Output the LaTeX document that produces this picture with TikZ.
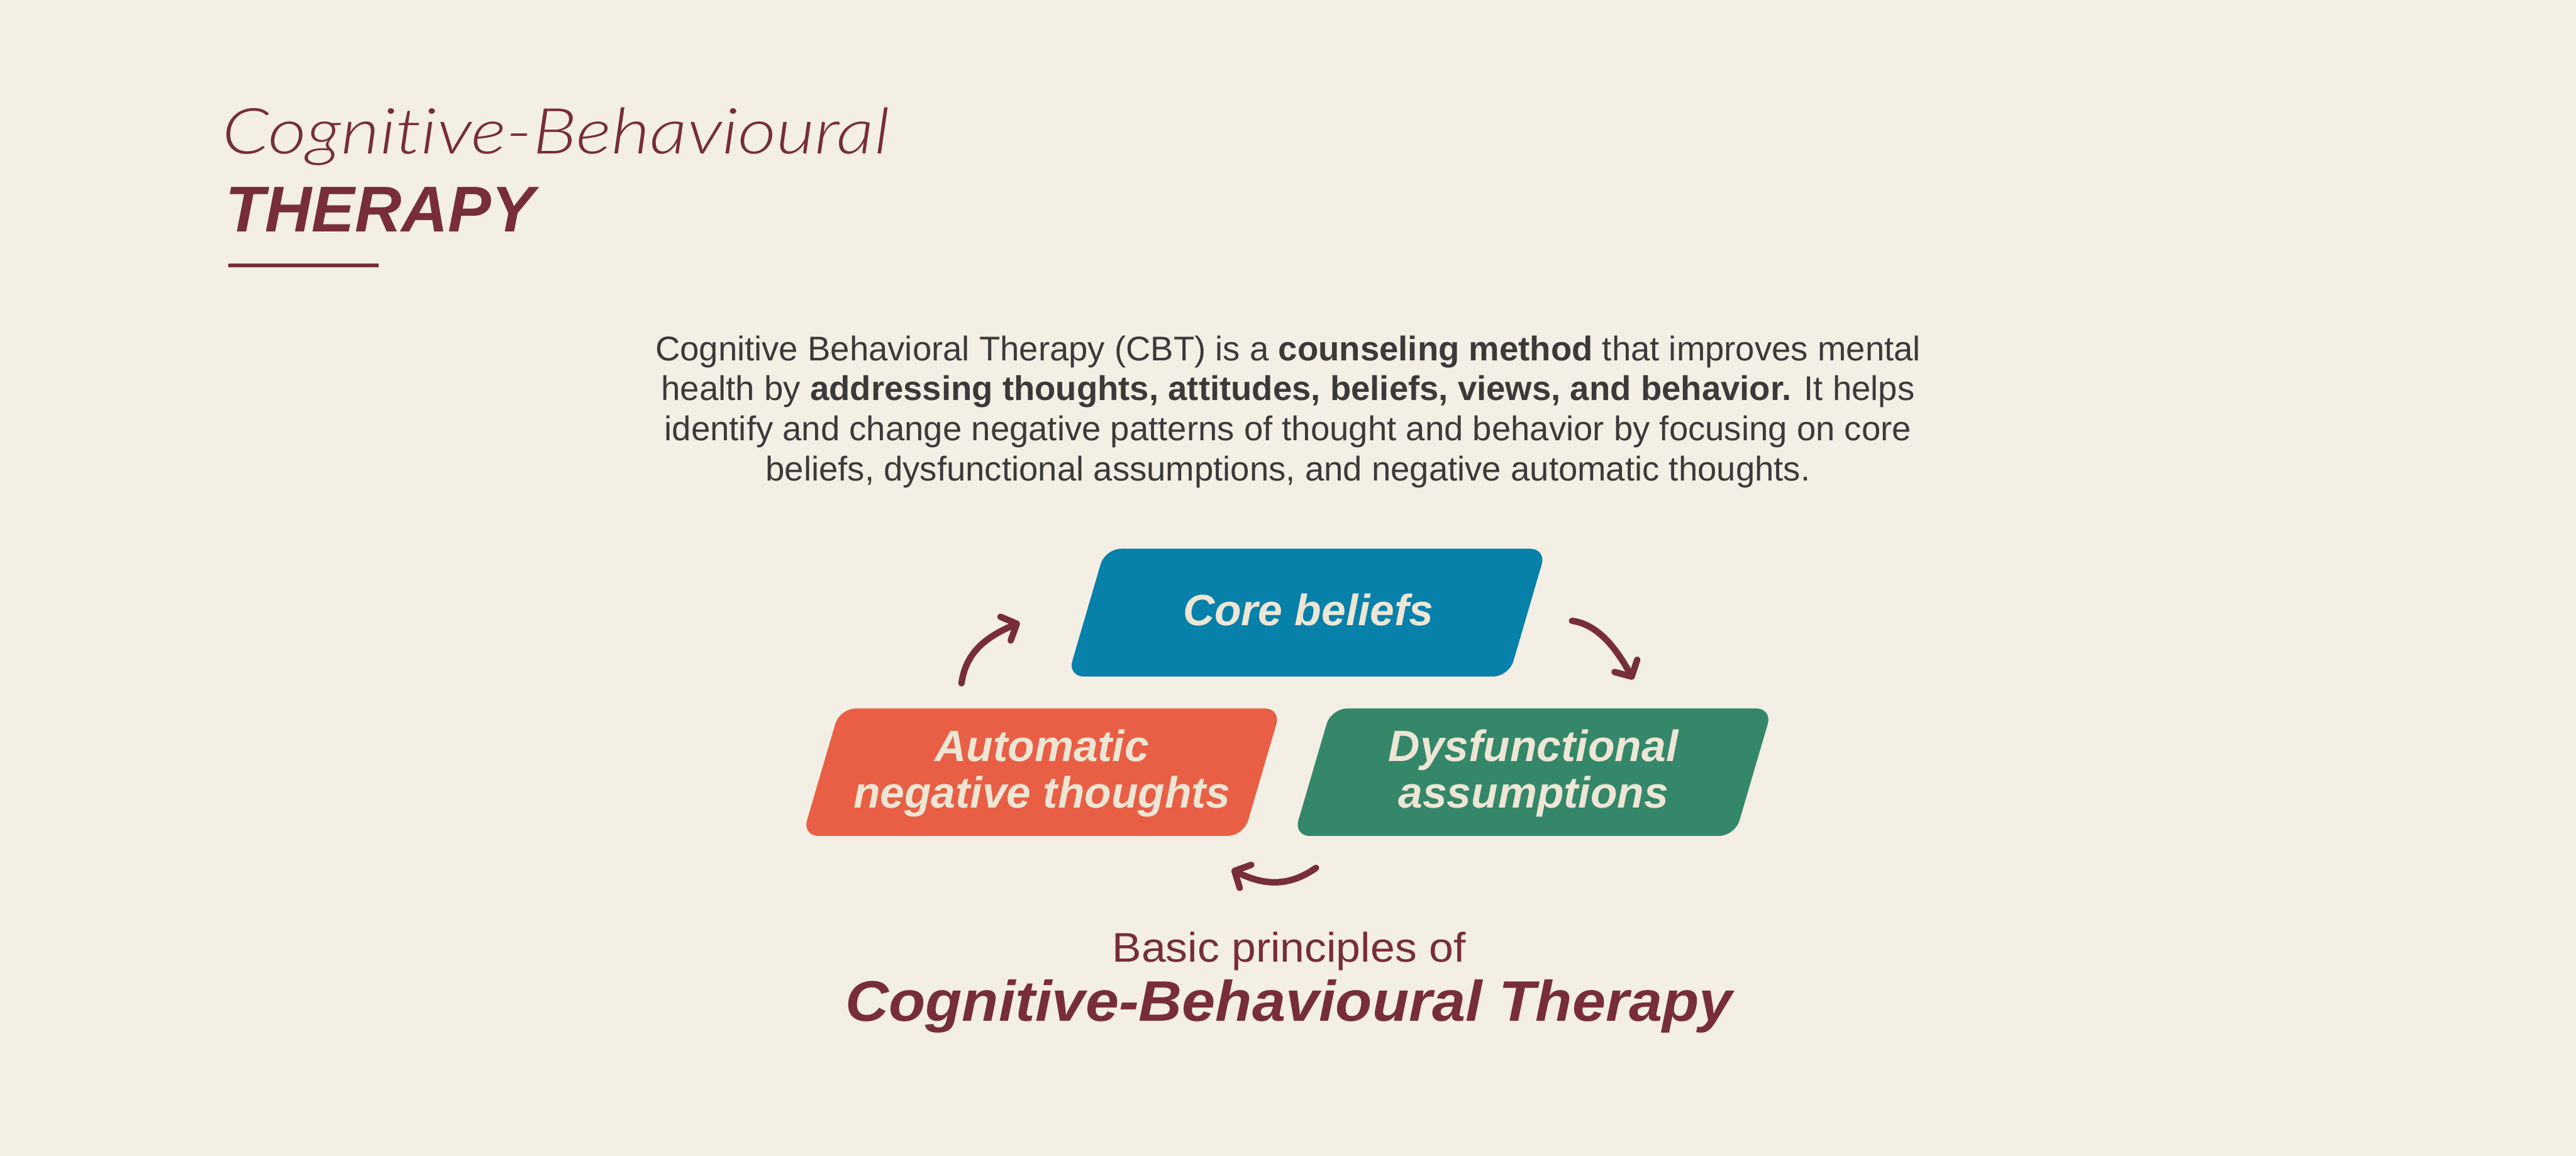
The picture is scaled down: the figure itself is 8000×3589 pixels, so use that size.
\documentclass[tikz,border=0pt]{standalone}
\usepackage{fontspec}
\setmainfont{Liberation Sans}
\newfontfamily\lightit{Lato Light Italic}[FakeStretch=1.18, Ligatures={NoCommon}]
\newfontfamily\widesans{Liberation Sans}[FakeStretch=1.06]
\newfontfamily\widerbold{Liberation Sans}[FakeStretch=1.05]
\usetikzlibrary{arrows.meta}
\definecolor{bg}{HTML}{F4EFE5}
\definecolor{maroon}{HTML}{772D3A}
\definecolor{coreblue}{HTML}{0780AA}
\definecolor{autoorange}{HTML}{E85F45}
\definecolor{dysgreen}{HTML}{35876A}
\definecolor{boxtext}{HTML}{EEE6D5}
\definecolor{paratext}{HTML}{3B3A38}
\tikzset{
  txt/.style={inner sep=0pt, outer sep=0pt},
  para/.style={txt, anchor=base, text=paratext, font=\fontsize{10.65}{12.5}\selectfont},
  boxlabel/.style={txt, anchor=base, text=boxtext, font=\bfseries\itshape\fontsize{13.6}{16}\selectfont},
  boxshape/.style={rounded corners=5pt},
  cyclearrow/.style={draw=maroon, line width=2pt, line cap=round,
    -{Straight Barb[round, length=3.8pt, width=8pt]}}
}
\begin{document}
\begin{tikzpicture}[x=0.1pt, y=-0.1pt]
\fill[bg] (0,0) rectangle (8000,3589);
\useasboundingbox (0,0) rectangle (8000,3589);

% Heading
\node[txt, anchor=base west, text=maroon, font=\lightit\fontsize{19.7}{24}\selectfont] (title) at (690,478.5) {Cognitive-Behavioural};
\node[txt, anchor=base west, text=maroon, font=\bfseries\itshape\fontsize{20.1}{24}\selectfont] (therapy) at (700,720.5) {THERAPY};
\coordinate (ulA) at (708,825);
\coordinate (ulB) at (1175,825);
\draw[maroon, line width=1.2pt] (ulA) -- (ulB);

% Paragraph
\node[para] (p1) at (4000,1121) {Cognitive Behavioral Therapy (CBT) is a \textbf{counseling method} that improves mental};
\node[para] (p2) at (4000,1244) {health by \textbf{addressing thoughts, attitudes, beliefs, views, and behavior.} It helps};
\node[para] (p3) at (4000,1369) {identify and change negative patterns of thought and behavior by focusing on core};
\node[para] (p4) at (4000,1494) {beliefs, dysfunctional assumptions, and negative automatic thoughts.};

% Boxes
\fill[coreblue, boxshape] (3432,1704) -- (4802,1704) -- (4686,2101) -- (3316,2101) -- cycle;
\fill[autoorange, boxshape] (2608,2200) -- (3978,2200) -- (3862,2596) -- (2492,2596) -- cycle;
\fill[dysgreen, boxshape] (4134,2200) -- (5504,2200) -- (5388,2596) -- (4018,2596) -- cycle;

\node[boxlabel] (core) at (4063,1942) {Core beliefs};
\node[boxlabel] (autoA) at (3236,2365) {Automatic};
\node[boxlabel] (autoB) at (3236,2509) {negative thoughts};
\node[boxlabel] (dysA) at (4762,2365) {Dysfunctional};
\node[boxlabel] (dysB) at (4762,2509) {assumptions};

% Arrows
\coordinate (a1s) at (2986,2122);
\coordinate (a1e) at (3167,1933);
\coordinate (a2s) at (4882,1928);
\coordinate (a2e) at (5072,2110);
\coordinate (a3s) at (4087,2695);
\coordinate (a3e) at (3825,2700);
\draw[cyclearrow] (a1s) .. controls (3000,2020) and (3070,1975) .. (a1e);
\draw[cyclearrow] (a2s) .. controls (4960,1938) and (5018,2010) .. (a2e);
\draw[cyclearrow] (a3s) .. controls (3995,2760) and (3915,2745) .. (a3e);

% Bottom caption
\node[txt, anchor=base, text=maroon, font=\widesans\fontsize{12.85}{15}\selectfont] (basic) at (4003,2987) {Basic principles of};
\node[txt, anchor=base, text=maroon, font=\widerbold\bfseries\itshape\fontsize{17.75}{21}\selectfont] (cbt) at (4003,3170) {Cognitive-Behavioural Therapy};
\end{tikzpicture}
\end{document}
